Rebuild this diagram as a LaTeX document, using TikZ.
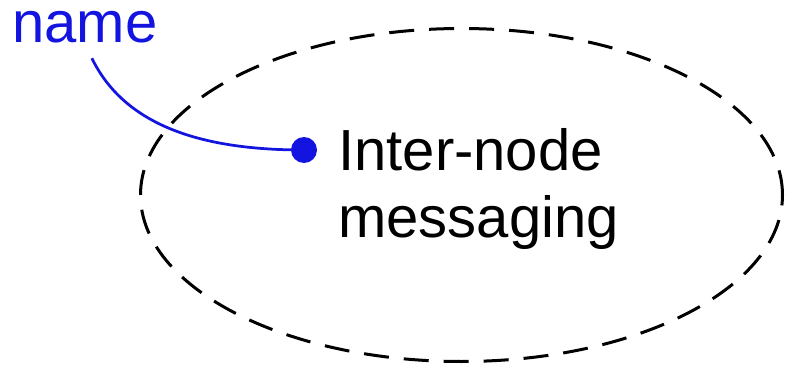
\documentclass[tikz,border=0pt]{standalone}
\usepackage{fontspec}
\setmainfont{Liberation Sans}
\usetikzlibrary{positioning}
\definecolor{tagblue}{RGB}{20,20,225}

\begin{document}
\begin{tikzpicture}[lbl/.style={inner sep=0pt,font=\fontsize{33}{38}\selectfont},
  dot/.style={circle,fill=tagblue,inner sep=0pt,minimum size=0.52cm}]
\useasboundingbox (0,0) rectangle (15.7,-7.42);
\draw[dashed,dash pattern=on 0.5cm off 0.3cm,line width=0.06cm] (9.23,-3.9) ellipse [x radius=6.42cm, y radius=3.33cm];
\node[lbl,text=tagblue,anchor=base west](nametag) at (0.24,-0.86){name};
\node[dot](namedot) at (6.08,-3.0){};
\node[lbl,anchor=base west,align=left](msg) at (6.76,-4.74){Inter-node\\messaging};

\path[draw=tagblue,line width=0.055cm,shorten <=0.32cm](nametag.south) to[out=-64,in=180] (namedot.center);
\end{tikzpicture}
\end{document}
